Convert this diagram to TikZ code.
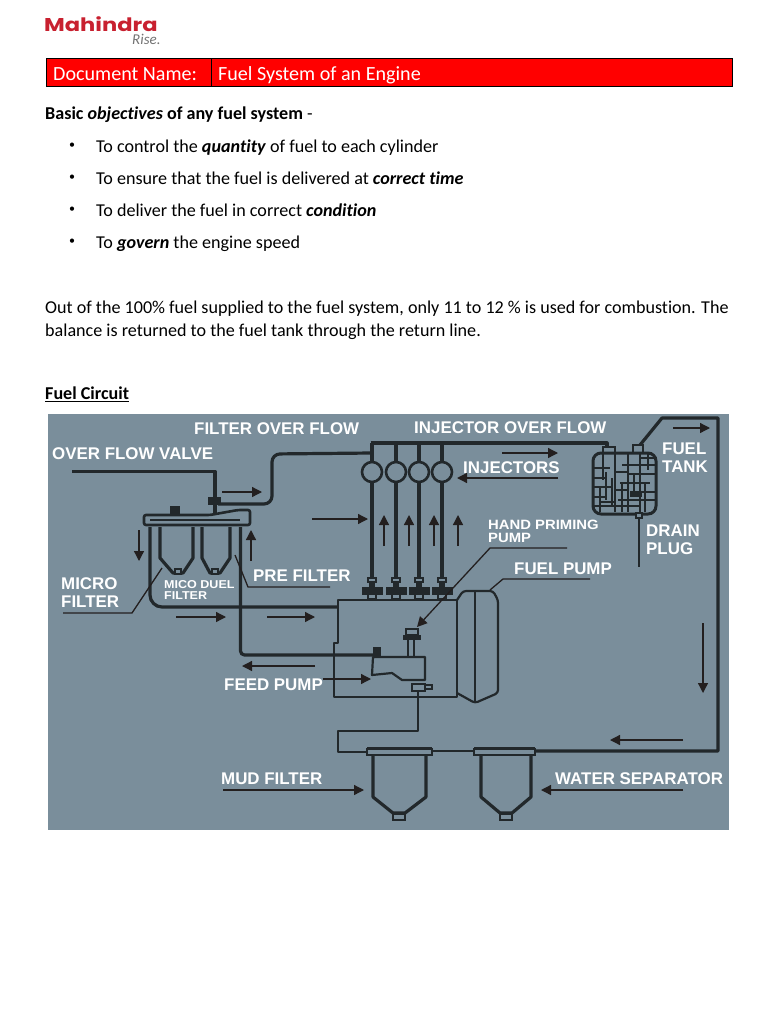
\documentclass[tikz,border=0pt]{standalone}
\usepackage{fontspec}
\setmainfont[Ligatures=NoCommon]{Carlito}
\newfontfamily\lab{Liberation Sans}
\newfontfamily\labw[FakeStretch=1.1]{Liberation Sans}
\newfontfamily\logo{Poppins}
\usetikzlibrary{arrows.meta}
\definecolor{panel}{HTML}{7A8E9B}
\definecolor{ink}{HTML}{22282B}
\definecolor{arr}{HTML}{231F1F}
\definecolor{brand}{HTML}{C8202F}
\tikzset{
 pipe/.style={draw=ink,line width=3.2pt,line join=round},
 fine/.style={draw=ink,line width=2.2pt,line join=round},
 flow/.style={draw=arr,line width=1.3pt,-{Triangle[length=10pt,width=10pt]}},
 lead/.style={draw=arr,line width=1.3pt},
 part/.style={draw=ink,fill=panel,line width=1.7pt},
 solid part/.style={draw=ink,fill=ink,line width=1pt},
 tag/.style={text=white,font=\lab\bfseries\fontsize{16.9}{18}\selectfont,anchor=west,inner sep=0pt,align=left,yshift=-.8pt},
 tagsm/.style={text=white,font=\labw\bfseries\fontsize{13.5}{12.5}\selectfont,anchor=west,inner sep=0pt,align=left},
 tagxs/.style={text=white,font=\labw\bfseries\fontsize{11.4}{10.5}\selectfont,anchor=west,inner sep=0pt,align=left},
 body/.style={text=black,font=\fontsize{18.1}{20}\selectfont,anchor=base west,inner sep=0pt,yshift=-1.5pt},
 bul/.style={text=black,font=\fontsize{12}{14}\selectfont,inner sep=0pt},
}
\newcommand{\bi}[1]{\textbf{\textit{#1}}}
\begin{document}
\begin{tikzpicture}[x=1pt,y=-1pt]
\useasboundingbox (0,0) rectangle (768,1024);
\fill[white] (0,0) rectangle (768,1024);
% logo
\node[anchor=west,inner sep=0pt,text=brand] (logo) at (44,24.5) {\scalebox{1.22}[1]{\logo\bfseries\fontsize{18.5}{18}\selectfont Mahindra}};
\node[anchor=west,inner sep=0pt,text=black!55] (rise) at (132,39.5) {\fontsize{15}{15}\selectfont\itshape Rise.};
% header
\fill[red] (46,59) rectangle (732,87);
\draw[black,line width=1pt] (46,59) rectangle (732,87);
\draw[black,line width=.8pt] (211,59) -- (211,87);
\node[anchor=base west,inner sep=0pt,text=white] (dn) at (53,80.5) {\fontsize{20.1}{22}\selectfont Document Name:};
\node[anchor=base west,inner sep=0pt,text=white] (ds) at (218,80.5) {\fontsize{20.1}{22}\selectfont Fuel System of an Engine};
% text
\node[body] (t0) at (45,118) {\textbf{Basic \textit{objectives} of any fuel system} -};
\foreach \n/\y in {a/146,b/178,c/210,d/242} \node[bul] (b\n) at (72,\y) {•};
\node[body] (t1) at (96,151) {To control the \bi{quantity} of fuel to each cylinder};
\node[body] (t2) at (96,183) {To ensure that the fuel is delivered at \bi{correct time}};
\node[body] (t3) at (96,215) {To deliver the fuel in correct \bi{condition}};
\node[body] (t4) at (96,247) {To \bi{govern} the engine speed};
\node[body] (t5) at (45,312) {Out of the 100\% fuel supplied to the fuel system, only 11 to 12 \% is used for combustion. The};
\node[body] (t6) at (45,335) {balance is returned to the fuel tank through the return line.};
\node[body] (t7) at (45,398) {\underline{\textbf{Fuel Circuit}}};
% panel
\fill[panel] (48,414) rectangle (729,830);
% overflow valve and filter overflow pipes
\draw[pipe] (72,471.5) -- (215,471.5) -- (215,498);
\draw[pipe,rounded corners=8pt] (218,504) -- (272,504) -- (272,454) -- (372,453);
\draw[pipe] (215,504) -- (215,515);
\draw[pipe] (370.5,443) -- (607,443) -- (607,448);
% injectors
\foreach \x in {372,396,419,442}{
 \draw[pipe] (\x,443) -- (\x,578);
 \draw[part,line width=2.6pt] (\x,472) circle (10);
 \draw[part,line width=1.4pt] (\x-4,578) rectangle (\x+4,582);
 \fill[ink] (\x-3,582) rectangle (\x+3,587);
 \draw[part,solid part] (\x-10,587) rectangle (\x+10,594);
 \draw[part,line width=1.4pt] (\x-4,594) rectangle (\x+4,599);
}
% tank
\draw[pipe] (640,445) -- (662,418) -- (718,418) -- (718,751) -- (535,751);
\draw[part] (603,447) rectangle (615,453);
\draw[part] (633,445) rectangle (643,453);
\draw[part,line width=3pt,rounded corners=8pt] (593,453) rectangle (656,514);
\draw[fine,line width=1.5pt]
 (603,453)--(603,480) (615,453)--(615,512) (628,453)--(628,512) (640,453)--(640,512) (648,453)--(648,470)
 (594,468)--(610,468) (594,478)--(606,478) (594,487)--(612,487) (594,497)--(607,497) (594,506)--(640,506)
 (606,472)--(606,500) (612,478)--(612,505) (600,487)--(600,512)
 (622,465)--(655,465) (628,474)--(655,474) (620,483)--(650,483) (630,492)--(655,492) (618,500)--(655,500)
 (634,474)--(634,492) (645,483)--(645,512) (622,483)--(622,512)
 (615,472)--(628,472) (615,490)--(628,490) (600,502)--(615,502) (640,458)--(655,458);
\fill[ink] (630,492) rectangle (642,497);
\draw[fine] (639,514) -- (639,567);
\draw[part,line width=1.2pt] (636,513) rectangle (642,518);
% micro/pre filter
\draw[pipe,rounded corners=12pt] (150,527) -- (150,607) -- (338,607);
\draw[pipe,rounded corners=4pt] (240.5,527) -- (240.5,655) -- (373,655);
\draw[part,line width=2.6pt,rounded corners=2pt] (144,515) -- (210,515) -- (238,510) -- (250,510) -- (250,525) -- (144,525) -- cycle;
\draw[ink,line width=1.2pt] (150,520) -- (240,520);
\fill[ink] (170,506) rectangle (180,515);
\draw[part,fill=ink,line width=1pt] (208,497) rectangle (220,504);
\draw[pipe] (160,527) -- (160,558) -- (173,573) -- (183,573) -- (193,558) -- (193,527);
\draw[pipe] (202,527) -- (202,558) -- (210,573) -- (220,573) -- (230,558) -- (230,527);
\draw[part,line width=1.4pt] (175,569) rectangle (181,574);
\draw[part,line width=1.4pt] (212,569) rectangle (218,574);
% pump block
\draw[fine] (338,600) -- (457,600) -- (457,697) -- (334,697) -- (334,643) -- (338,643) -- cycle;
\draw[fine,rounded corners=3pt] (457,600) -- (463,591) -- (493,591) -- (498,600) -- (498,693) -- (475,703) -- (457,693);
\draw[fine] (475,591) -- (475,703);
% feed pump
\draw[fine] (373,657) -- (425,657) -- (425,680) -- (402,680) -- (392,673) -- (372,675) -- cycle;
\fill[ink] (373,647) rectangle (381,657);
\draw[fine] (408,640) -- (408,657) (414,640) -- (414,657);
\draw[part,line width=1.6pt] (406,629) rectangle (418,635);
\fill[ink] (403,635) rectangle (421,640);
\draw[part,line width=1.6pt] (412,684) rectangle (425,691);
\draw[ink,line width=1.6pt] (425,685) -- (432,685) -- (432,689) -- (425,689);
% lower pipes
\draw[fine] (418,691) -- (418,731) -- (338,731) -- (338,752) -- (367,752);
\draw[fine] (432,751) -- (474,751);
% mud and water filters
\foreach \a/\b/\c/\d/\e/\f/\g in {367/432/373/426/393/405/0,474/535/481/531/500/512/0}{
 \draw[pipe] (\c,754) -- (\c,797) -- (\e,813) -- (\f,813) -- (\d,797) -- (\d,754);
 \draw[part,line width=1.5pt] (\e,814) rectangle (\f,820);
 \draw[part,line width=1.5pt] (\a,749) rectangle (\b,755);
 \draw[ink,line width=2.6pt] (\a,748) -- (\b,748);
}
% flow arrows
\draw[flow] (222,492) -- (262,492);
\draw[flow] (139,530) -- (139,561);
\draw[flow] (251,561) -- (251,530);
\draw[flow] (312,519) -- (368,519);
\foreach \x in {384,409,434,458} \draw[flow] (\x,546) -- (\x,515);
\draw[flow] (176,617) -- (226,617);
\draw[flow] (267,617) -- (315,617);
\draw[flow] (315,666) -- (242,666);
\draw[flow] (323,679) -- (371,679);
\draw[flow] (223,790) -- (364,790);
\draw[flow] (683,790) -- (541,790);
\draw[flow] (683,740) -- (610,740);
\draw[flow] (703,623) -- (703,693);
\draw[flow] (502,453) -- (558,453);
\draw[flow] (558,478) -- (457,478);
\draw[flow] (673,428) -- (710,428);
% leaders
\draw[lead] (63,613) -- (132,613) -- (162,568);
\draw[lead] (330,587) -- (248,587) -- (235,555);
\draw[flow] (567,548) -- (490,548) -- (417,627);
\draw[lead] (590,579) -- (503,579) -- (490,590);
% labels
\node[tag] (l1) at (194,428) {FILTER OVER FLOW};
\node[tag] (l2) at (414,427) {INJECTOR OVER FLOW};
\node[tag] (l3) at (52,453) {OVER FLOW VALVE};
\node[tag] (l4) at (463,467) {INJECTORS};
\node[tag] (l5) at (662,456.5) {FUEL\\[0pt]TANK};
\node[tag] (l6) at (646,538.5) {DRAIN\\[0pt]PLUG};
\node[tagsm] (l7) at (488,531.5) {HAND PRIMING\\PUMP};
\node[tag] (l8) at (514,568) {FUEL PUMP};
\node[tag] (l9) at (253,575) {PRE FILTER};
\node[tag] (l10) at (61,592) {MICRO\\[0pt]FILTER};
\node[tagxs] (l11) at (164,590) {MICO DUEL\\FILTER};
\node[tag] (l12) at (224,684) {FEED PUMP};
\node[tag] (l13) at (221,778) {MUD FILTER};
\node[tag] (l14) at (555,778) {WATER SEPARATOR};
\end{tikzpicture}
\end{document}
